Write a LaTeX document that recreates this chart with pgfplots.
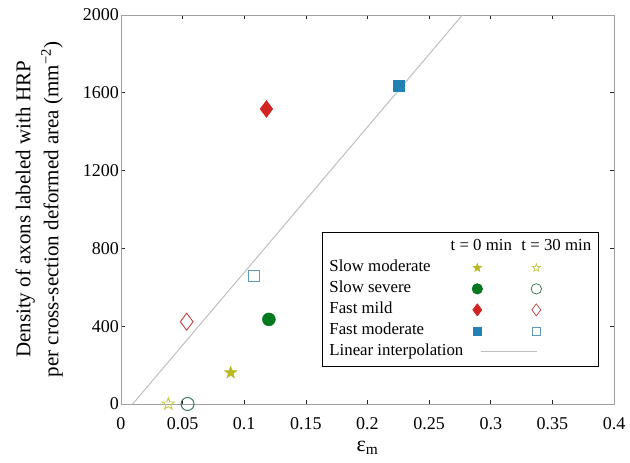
\documentclass[border=0pt]{standalone}
\usepackage{fontspec}
\setmainfont{Liberation Serif}
\usepackage{pgfplots}
\pgfplotsset{compat=1.18}

\definecolor{starcol}{RGB}{185,185,35}
\definecolor{staro}{RGB}{200,200,70}
\definecolor{greencol}{RGB}{0,120,30}
\definecolor{greeno}{RGB}{45,110,75}
\definecolor{redcol}{RGB}{210,35,35}
\definecolor{redo}{RGB}{190,65,65}
\definecolor{bluecol}{RGB}{35,130,180}
\definecolor{blueo}{RGB}{90,155,190}
\definecolor{lincol}{RGB}{190,190,190}

% five-pointed star, filled and open
\def\starpath{%
  \pgfpathmoveto{\pgfpointpolar{90}{\pgfplotmarksize}}%
  \pgfpathlineto{\pgfpointpolar{126}{0.4\pgfplotmarksize}}%
  \pgfpathlineto{\pgfpointpolar{162}{\pgfplotmarksize}}%
  \pgfpathlineto{\pgfpointpolar{198}{0.4\pgfplotmarksize}}%
  \pgfpathlineto{\pgfpointpolar{234}{\pgfplotmarksize}}%
  \pgfpathlineto{\pgfpointpolar{270}{0.4\pgfplotmarksize}}%
  \pgfpathlineto{\pgfpointpolar{306}{\pgfplotmarksize}}%
  \pgfpathlineto{\pgfpointpolar{342}{0.4\pgfplotmarksize}}%
  \pgfpathlineto{\pgfpointpolar{18}{\pgfplotmarksize}}%
  \pgfpathlineto{\pgfpointpolar{54}{0.4\pgfplotmarksize}}%
  \pgfpathclose}
\pgfdeclareplotmark{fstar}{\starpath\pgfusepathqfillstroke}
\pgfdeclareplotmark{ostar}{\starpath\pgfusepathqstroke}

% legend mark: x offset, mark, colour, size
\newcommand{\lmark}[4]{\begin{scope}[shift={(#1,0pt)},draw=#3,fill=#3,line width=0.7pt]\pgfsetplotmarksize{#4}\pgfuseplotmark{#2}\end{scope}}
\newcommand{\lbox}{\path[draw=none, fill=none] (0pt,-6pt) rectangle (128pt,6pt);}

\begin{document}
\begin{tikzpicture}
\useasboundingbox (-121pt,-59pt) rectangle (509pt,404pt);
\begin{axis}[
    scale only axis,
    width=493pt, height=389pt,
    xmin=0, xmax=0.4, ymin=0, ymax=2000,
    xtick={0,0.05,0.1,0.15,0.2,0.25,0.3,0.35,0.4},
    xticklabels={0,0.05,0.1,0.15,0.2,0.25,0.3,0.35,0.4},
    ytick={0,400,800,1200,1600,2000},
    yticklabels={0,400,800,1200,1600,2000},
    tick align=inside,
    major tick length=4pt,
    axis line style={draw=gray!75, line width=0.8pt},
    tick style={black!85, line width=0.6pt},
    ticklabel style={font=\fontsize{18}{20}\selectfont},
    xticklabel style={yshift=-10pt},
    yticklabel style={inner xsep=2pt},
    xlabel={ε\textsubscript{m}},
    xlabel style={font=\fontsize{22}{24}\selectfont, at={(axis description cs:0.5,-0.123)}, anchor=base},
    ylabel={Density of axons labeled with HRP\\per cross-section deformed area (mm\textsuperscript{−2})},
    ylabel style={font=\fontsize{21}{28}\selectfont, align=center, at={(axis description cs:-0.166,0.5)}, anchor=center},
    clip=false,
    legend plot pos=right,
    legend style={at={(axis description cs:0.408,0.442)}, anchor=north west,
        draw=black, line width=0.6pt, inner xsep=5pt, inner ysep=4pt,
        font=\fontsize{16.8}{18}\selectfont,
        nodes={text height=11.5pt, text depth=3.5pt, inner ysep=3pt},
        cells={anchor=west}, row sep=0pt},
]
% linear interpolation
\addplot[lincol, line width=1pt, forget plot] coordinates {(0.0095,0) (0.277,2000)};
% t = 0 min
\addplot[only marks, forget plot, mark=fstar, mark size=6.3pt, color=starcol, line width=0.6pt] coordinates {(0.089,161)};
\addplot[only marks, forget plot, mark=*, mark size=6.5pt, color=greencol] coordinates {(0.120,435)};
\addplot[only marks, forget plot, mark=diamond*, mark size=8.5pt, color=redcol] coordinates {(0.118,1517)};
\addplot[only marks, forget plot, mark=square*, mark size=5.5pt, color=bluecol] coordinates {(0.2256,1635)};
% t = 30 min
\addplot[only marks, forget plot, mark=ostar, mark size=6.3pt, color=staro, line width=0.9pt] coordinates {(0.0384,0)};
\addplot[only marks, forget plot, mark=o, mark size=6.5pt, color=greeno, line width=0.9pt] coordinates {(0.054,0)};
\addplot[only marks, forget plot, mark=diamond, mark size=8.5pt, color=redo, line width=0.9pt] coordinates {(0.0533,423)};
\addplot[only marks, forget plot, mark=square, mark size=5.5pt, color=blueo, line width=0.9pt] coordinates {(0.108,658)};

\addlegendimage{legend image code/.code={\lbox
    \node[overlay, anchor=center, inner xsep=0pt] at (16pt,0pt) {t = 0 min};
    \node[overlay, anchor=center, inner xsep=0pt] at (91pt,0pt) {t = 30 min};}}
\addlegendentry{}
\addlegendimage{legend image code/.code={\lbox\lmark{12pt}{fstar}{starcol}{4.2pt}\lmark{71pt}{ostar}{staro}{4.2pt}}}
\addlegendentry{Slow moderate}
\addlegendimage{legend image code/.code={\lbox\lmark{12pt}{*}{greencol}{5.2pt}\lmark{71pt}{o}{greeno}{5.2pt}}}
\addlegendentry{Slow severe}
\addlegendimage{legend image code/.code={\lbox\lmark{12pt}{diamond*}{redcol}{6pt}\lmark{71pt}{diamond}{redo}{6pt}}}
\addlegendentry{Fast mild}
\addlegendimage{legend image code/.code={\lbox\lmark{12pt}{square*}{bluecol}{4pt}\lmark{71pt}{square}{blueo}{4pt}}}
\addlegendentry{Fast moderate}
\addlegendimage{legend image code/.code={\lbox\draw[lincol, line width=1pt] (16pt,0pt) -- (72pt,0pt);}}
\addlegendentry{Linear interpolation}
\end{axis}
\end{tikzpicture}
\end{document}
